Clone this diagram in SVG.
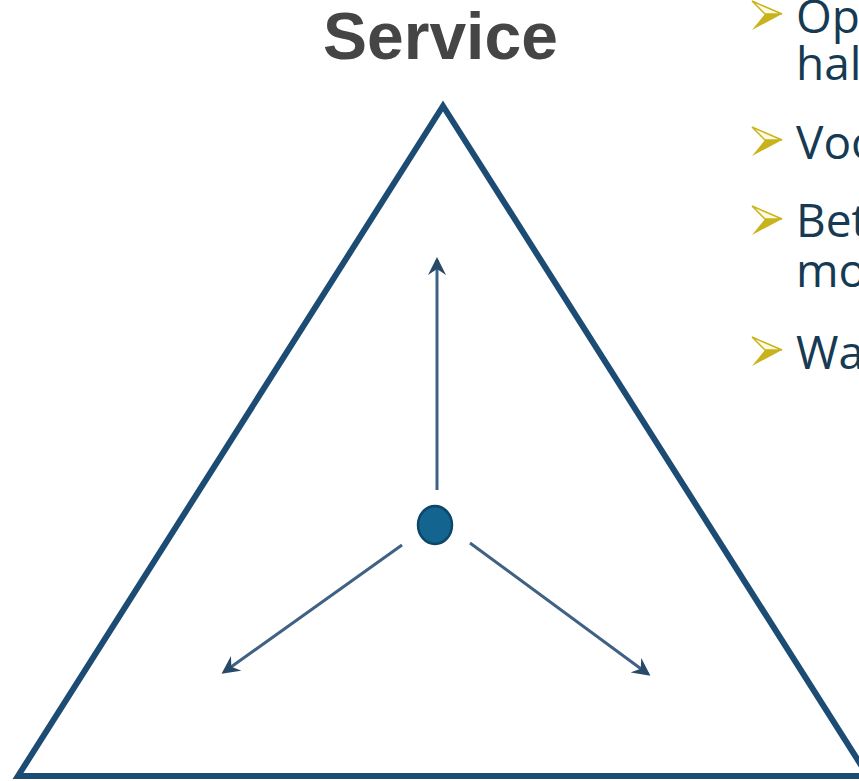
<svg xmlns="http://www.w3.org/2000/svg" width="859" height="781" viewBox="0 0 859 781">
<style>
.title{font-family:"Liberation Sans",Arial,sans-serif;font-weight:bold;font-size:66px;fill:#454545}
.bt{font-family:"Open Sans","Noto Sans",sans-serif;font-size:46px;fill:#163a52}
.tri{fill:none;stroke:#1c4c74;stroke-width:6;stroke-linejoin:miter}
.arr{stroke:#3f6183;stroke-width:3;fill:none}
.bul-top{fill:#fffbe0;stroke:#c9b31c;stroke-width:1.5;stroke-linejoin:miter}
.bul-bot{fill:#c9b31c}
</style>
<defs>
<marker id="ah" viewBox="0 0 12 12" refX="10" refY="6" markerWidth="6" markerHeight="6" orient="auto" markerUnits="strokeWidth">
<path d="M0,0 L12,6 L0,12 L4,6 z" fill="#284a68"/>
</marker>
<g id="bullet">
<path class="bul-top" d="M0,0 L30,13 L13,13 z"/>
<path class="bul-bot" d="M13,13 L30,13 L0,29 z"/>
</g>
</defs>
<rect width="859" height="781" fill="#ffffff"/>
<g id="title"><text class="title" x="323" y="59">Service</text></g>
<g id="triangle"><path class="tri" d="M443,106 L18,776 L868,776 Z"/></g>
<g id="center"><ellipse cx="435" cy="525" rx="17" ry="19" fill="#13648f" stroke="#0d4668" stroke-width="2.5"/></g>
<g id="connectors">
<line class="arr" x1="437" y1="490" x2="437" y2="260" marker-end="url(#ah)"/>
<line class="arr" x1="402" y1="545" x2="224" y2="672" marker-end="url(#ah)"/>
<line class="arr" x1="470" y1="543" x2="648" y2="674" marker-end="url(#ah)"/>
</g>
<g id="bullets">
<use href="#bullet" x="752" y="1"/>
<use href="#bullet" x="752" y="127"/>
<use href="#bullet" x="752" y="206"/>
<use href="#bullet" x="752" y="337"/>
</g>
<g id="text">
<text class="bt" x="796" y="33">Op</text>
<text class="bt" x="796" y="80">hal</text>
<text class="bt" x="796" y="159">Voo</text>
<text class="bt" x="796" y="237">Bet</text>
<text class="bt" x="796" y="287">mo</text>
<text class="bt" x="796" y="369">Wa</text>
</g>
</svg>
